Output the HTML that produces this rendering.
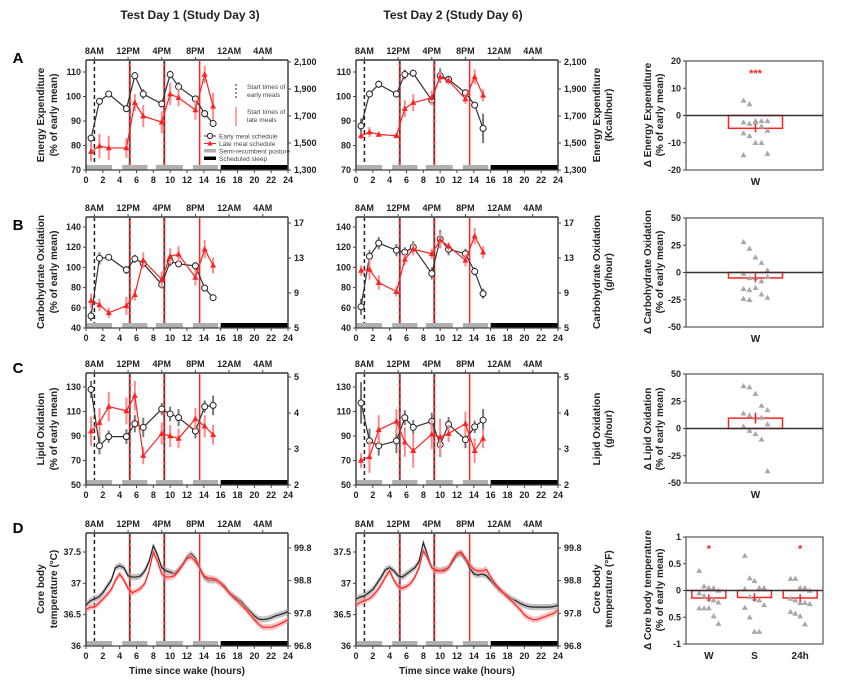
<!DOCTYPE html>
<html><head><meta charset="utf-8"><style>
html,body{margin:0;padding:0;background:#fff;}
svg{display:block;font-family:"Liberation Sans",Arial,sans-serif;}
</style></head><body>
<svg id="fig" width="865" height="689" viewBox="0 0 865 689" xmlns="http://www.w3.org/2000/svg"></svg>
<script>
// ---------- DATA ----------
const hours = [0.6,1.6,2.7,4.8,5.8,6.8,9.0,10.0,11.0,13.0,14.1,15.1];
const eeEarlyD1 = [83,98,101,95,108.5,101,97,109,104,99,93,89];
const eeLateD1  = [77.5,79.8,79,79,97.5,92,89.5,101,99.5,94.5,109,96];
const eeEarlyD2 = [88,101,105,101,109,109.5,98.5,108.5,107,101.5,96.5,87];
const eeLateD2  = [84,85.5,84.5,84,95,97.5,99.5,108,106.5,99,108,100.5];
const eeEarlyErrD1 = [1.5,1.5,1,1,1.5,2,1.5,1.5,2,1.5,1.5,1.5];
const eeLateErrD1  = [4,5,5,4,3.5,4.5,4.5,4.5,3.5,4,3.5,5.5];
const eeEarlyErrD2 = [3,1.5,1.5,1.5,2,1.5,2,3,1.5,1.5,1,6];
const eeLateErrD2  = [1.5,2,1,1,3.5,3.5,3,2,1.5,2,3,2.5];
const choEarlyD1 = [52,109,110,97.5,108.5,104,83,106,103.5,101.5,79.5,70];
const choLateD1  = [67,63,55,62,73,107,88,111,113,90,118,102];
const choEarlyD2 = [61,111,124,117,115,120,94,128,118,113.5,96,74];
const choLateD2  = [97,98,85,76,108,118,113.5,127,121,107,131,115];
const choEarlyErrD1 = [5,6,3,4,4,4,4,5,3,4,3,3];
const choLateErrD1  = [7,6,5,9,6,8,8,8,8,8,9,8];
const choEarlyErrD2 = [8,6,6,6,5,6,6,9,6,5,4,5];
const choLateErrD2  = [5,10,7,5,6,6,5,8,4,6,8,6];
const lipEarlyD1 = [128,82,89.5,89.5,100,97,112,108,105,94,114,115];
const lipLateD1  = [94,101,114,110.5,123,74,92,90,88,104,98,91];
const lipEarlyD2 = [117,86,82,86,105,97,102,83,99.5,87,97.5,103];
const lipLateD2  = [70,73,95,102,85,78,91.5,89,92,100,78,88];
const lipEarlyErrD1 = [7,7,5,6,7,8,5,6,7,6,5,8];
const lipLateErrD1  = [12,12,12,11,12,7,9,9,8,9,9,8];
const lipEarlyErrD2 = [17,10,8,10,6,6,7,10,6,7,5,9];
const lipLateErrD2  = [6,13,12,10,12,14,12,15,7,10,10,8];
const cbtHours = [0,0.5,1,1.5,2,2.5,3,3.5,4,4.5,5,5.5,6,6.5,7,7.5,8,8.5,9,9.5,10,10.5,11,11.5,12,12.5,13,13.5,14,14.5,15,15.5,16,16.5,17,17.5,18,18.5,19,19.5,20,20.5,21,21.5,22,22.5,23,23.5,24];
const cbtEarlyD1 = [36.65,36.72,36.75,36.78,36.85,36.95,37.05,37.25,37.28,37.25,37.12,37.1,37.1,37.12,37.2,37.35,37.6,37.45,37.25,37.2,37.18,37.15,37.22,37.3,37.42,37.47,37.4,37.25,37.1,37.05,37.05,37.05,37.0,36.95,36.85,36.8,36.75,36.7,36.62,36.55,36.48,36.43,36.42,36.43,36.45,36.48,36.5,36.52,36.55];
const cbtLateD1  = [36.58,36.62,36.62,36.68,36.75,36.82,36.9,37.05,37.15,37.05,36.92,36.85,36.88,36.92,37.0,37.2,37.5,37.35,37.15,37.1,37.1,37.12,37.2,37.3,37.4,37.42,37.35,37.25,37.12,37.08,37.08,37.05,37.0,36.93,36.85,36.78,36.72,36.65,36.58,36.5,36.42,36.35,36.3,36.3,36.3,36.32,36.35,36.38,36.42];
const cbtEarlyD2 = [36.75,36.78,36.8,36.85,36.9,37.0,37.1,37.22,37.25,37.2,37.12,37.1,37.15,37.2,37.25,37.35,37.65,37.45,37.25,37.22,37.2,37.22,37.25,37.35,37.45,37.47,37.38,37.25,37.15,37.13,37.15,37.12,37.05,36.97,36.9,36.85,36.8,36.75,36.72,36.68,36.65,36.63,36.62,36.62,36.62,36.62,36.62,36.63,36.65];
const cbtLateD2  = [36.65,36.7,36.72,36.75,36.8,36.88,36.98,37.1,37.2,37.05,36.95,36.92,36.95,37.0,37.1,37.25,37.52,37.4,37.25,37.2,37.2,37.2,37.25,37.38,37.48,37.5,37.4,37.3,37.22,37.2,37.2,37.22,37.1,37.0,36.92,36.85,36.78,36.72,36.65,36.58,36.5,36.45,36.42,36.42,36.45,36.47,36.5,36.52,36.58];
const mealEarly = [1];
const mealBoth = [5.2,9.3];
const mealLate = [13.5];
const postureStart = [0,4.3,8.3,12.7];
const postureEnd = [3.1,7.3,11.5,15.7];
const sleepStart = 16, sleepEnd = 24;
const bottomTicks = [0,2,4,6,8,10,12,14,16,18,20,22,24];
const clockTicks = [1,5,9,13,17,21];
const clockLabels = ["8AM","12PM","4PM","8PM","12AM","4AM"];
const eeTicks = [70,80,90,100,110];
const eeRightTicks = ["1,300","1,500","1,700","1,900","2,100"];
const choTicks = [40,60,80,100,120,140];
const choRightTicks = ["5","9","13","17"];
const lipTicks = [50,70,90,110,130];
const lipRightTicks = ["2","3","4","5"];
const cbtTicks = [36,36.5,37,37.5];
const cbtTickLabels = ["36","36.5","37","37.5"];
const cbtRightTicks = ["96.8","97.8","98.8","99.8"];
const dEE = [5.5,4.2,-2,-2,-2,-2.5,-3,-2.5,-4,-5.5,-6.5,-7.5,-10,-10,-14,-14.5];
const dEEBar = -4.7, dEEErr = 1.5;
const dCHO = [28,22,14,9,2,-1,-5,-5,-8,-4,-15,-16,-14,-20,-23,-24,-25];
const dCHOBar = -5, dCHOErr = 4;
const dLIP = [39,38,32,21,17,14,12,10,10,4,2,-2,-5,-10,-39];
const dLIPBar = 9.5, dLIPErr = 5;
const dCBTW = [0.37,0.08,0.05,0.05,0,-0.05,-0.1,-0.15,-0.18,-0.22,-0.33,-0.33,-0.33,-0.48,-0.62];
const dCBTS = [0.65,0.23,0.18,0.05,0.05,0.03,-0.12,-0.15,-0.18,-0.27,-0.32,-0.5,-0.77,-0.77];
const dCBT24 = [0.22,0.22,0.05,0.05,0,-0.15,-0.18,-0.23,-0.23,-0.25,-0.4,-0.43,-0.48,-0.63];
const dCBTBars = [-0.14,-0.13,-0.14];
const dCBTErrs = [0.07,0.08,0.07];
const dCBTGroups = ["W","S","24h"];

// ---------- HELPERS ----------
const NS = "http://www.w3.org/2000/svg";
const svg = document.getElementById('fig');
function el(tag, attrs, name, parent) {
  const e = document.createElementNS(NS, tag);
  for (const k in attrs) e.setAttribute(k, attrs[k]);
  
  
  (parent || svg).appendChild(e);
  return e;
}
function txt(x, y, s, name, o) {
  o = o || {};
  const t = el('text', {x:x, y:y, 'font-size':o.size||9, 'font-weight':o.weight||'bold', 'text-anchor':o.anchor||'middle', fill:o.fill||'#222'}, name);
  if (o.rot) t.setAttribute('transform', 'rotate(' + o.rot + ' ' + x + ' ' + y + ')');
  t.textContent = s;
  return t;
}
function line(x1,y1,x2,y2,stroke,w,name,dash){
  const a = {x1:x1,y1:y1,x2:x2,y2:y2,stroke:stroke,'stroke-width':w};
  if (dash) a['stroke-dasharray'] = dash;
  return el('line', a, name);
}

// ---------- TIME PLOTS ----------
function timePlot(cfg) {
  const X0 = cfg.x0, X1 = cfg.x0 + 202;
  const xs = h => X0 + h * (X1 - X0) / 24;
  const ys = v => cfg.yb - (v - cfg.dmin) * cfg.ppu;
  const top = cfg.top, bot = cfg.yb;
  const g = cfg.pid;
  mealEarly.forEach(h => line(xs(h), top, xs(h), bot, '#222', 1.5, g + '-early-meal-line', '4,3'));
  mealBoth.forEach(h => { line(xs(h), top, xs(h), bot, '#f22', 2, g + '-late-meal-line'); line(xs(h), top, xs(h), bot, '#444', 1.5, g + '-early-meal-line', '4,3'); });
  mealLate.forEach(h => line(xs(h), top, xs(h), bot, '#f22', 1.5, g + '-late-meal-line'));
  postureStart.forEach((s, i) => el('rect', {x:xs(s), y:bot-5, width:xs(postureEnd[i])-xs(s), height:5, fill:'#b0b0b0'}, g + '-posture-bar'));
  el('rect', {x:xs(sleepStart), y:bot-5, width:xs(sleepEnd)-xs(sleepStart), height:5, fill:'#000'}, g + '-sleep-bar');
  line(X0, top, X1, top, '#666', 2, g + '-top-axis');
  line(X0, top, X0, bot, '#444', 1.5, g + '-y-axis-left');
  line(X1, top, X1, bot, '#444', 1.5, g + '-y-axis-right');
  line(X0, bot, X1, bot, '#444', 1.2, g + '-x-axis');
  bottomTicks.forEach(h => { line(xs(h), bot, xs(h), bot+3, '#444', 1, g + '-x-tick'); txt(xs(h), bot+13, String(h), g + '-x-tick-label'); });
  clockTicks.forEach((h, i) => { line(xs(h), top, xs(h), top-3, '#444', 1, g + '-top-tick'); txt(xs(h), top-6, clockLabels[i], g + '-clock-label'); });
  cfg.ticks.forEach((v, i) => { line(X0-3, ys(v), X0, ys(v), '#444', 1, g + '-y-tick'); txt(X0-5, ys(v)+3, cfg.tickLabels ? cfg.tickLabels[i] : String(v), g + '-y-tick-label', {anchor:'end'}); });
  cfg.rTicks.forEach((s, i) => { const y = cfg.rBot - i * cfg.rStep; line(X1, y, X1+3, y, '#444', 1, g + '-right-tick'); txt(X1+6, y+3, s, g + '-right-tick-label', {anchor:'start'}); });
  return {xs, ys};
}
function series(sc, xsArr, vals, errs, early, name) {
  const col = early ? '#333' : '#f22';
  const ecol = early ? '#777' : '#f88';
  vals.forEach((v, i) => line(sc.xs(xsArr[i]), sc.ys(v - errs[i]), sc.xs(xsArr[i]), sc.ys(v + errs[i]), ecol, 2, name + '-error-bar'));
  const pts = vals.map((v, i) => sc.xs(xsArr[i]) + ',' + sc.ys(v)).join(' ');
  el('polyline', {points:pts, fill:'none', stroke:col, 'stroke-width':1.2}, name + '-line');
  vals.forEach((v, i) => {
    const x = sc.xs(xsArr[i]), y = sc.ys(v);
    if (early) el('circle', {cx:x, cy:y, r:3, fill:'#fff', stroke:'#222', 'stroke-width':1}, name + '-point');
    else el('polygon', {points:(x)+','+(y-3.2)+' '+(x-3)+','+(y+2.3)+' '+(x+3)+','+(y+2.3), fill:'#f22'}, name + '-point');
  });
}
function cbtSeries(sc, vals, early, name) {
  const up = vals.map((v, i) => sc.xs(cbtHours[i]) + ',' + sc.ys(v + 0.05));
  const dn = vals.map((v, i) => sc.xs(cbtHours[i]) + ',' + sc.ys(v - 0.05)).reverse();
  el('polygon', {points:up.concat(dn).join(' '), fill: early ? '#999' : '#f99', opacity:0.6}, name + '-band');
  el('polyline', {points:vals.map((v, i) => sc.xs(cbtHours[i]) + ',' + sc.ys(v)).join(' '), fill:'none', stroke: early ? '#222' : '#f22', 'stroke-width':1.2}, name + '-line');
}

const panels = [
  {pid:'ee', top:60, yb:170, dmin:70, ppu:2.45, ticks:eeTicks, rTicks:eeRightTicks, rBot:170, rStep:27,
   d:[[eeEarlyD1,eeEarlyErrD1,eeLateD1,eeLateErrD1],[eeEarlyD2,eeEarlyErrD2,eeLateD2,eeLateErrD2]]},
  {pid:'cho', top:217, yb:328, dmin:40, ppu:1.01, ticks:choTicks, rTicks:choRightTicks, rBot:328, rStep:35,
   d:[[choEarlyD1,choEarlyErrD1,choLateD1,choLateErrD1],[choEarlyD2,choEarlyErrD2,choLateD2,choLateErrD2]]},
  {pid:'lip', top:373, yb:485, dmin:50, ppu:1.225, ticks:lipTicks, rTicks:lipRightTicks, rBot:485, rStep:36,
   d:[[lipEarlyD1,lipEarlyErrD1,lipLateD1,lipLateErrD1],[lipEarlyD2,lipEarlyErrD2,lipLateD2,lipLateErrD2]]},
];
panels.forEach(p => {
  [86, 356].forEach((x0, k) => {
    const sc = timePlot(Object.assign({}, p, {x0:x0, pid:p.pid + '-day' + (k+1)}));
    series(sc, hours, p.d[k][0], p.d[k][1], true, p.pid + '-day' + (k+1) + '-early');
    series(sc, hours, p.d[k][2], p.d[k][3], false, p.pid + '-day' + (k+1) + '-late');
  });
});
[[86, cbtEarlyD1, cbtLateD1], [356, cbtEarlyD2, cbtLateD2]].forEach((c, k) => {
  const sc = timePlot({pid:'cbt-day' + (k+1), x0:c[0], top:533, yb:646, dmin:36, ppu:62.67, ticks:cbtTicks, tickLabels:cbtTickLabels, rTicks:cbtRightTicks, rBot:646, rStep:32.7});
  cbtSeries(sc, c[1], true, 'cbt-day' + (k+1) + '-early');
  cbtSeries(sc, c[2], false, 'cbt-day' + (k+1) + '-late');
});

// legend (panel A day 1)
line(236, 84, 236, 100, '#444', 1.2, 'legend-early-meal-line', '2,2');
txt(247, 89, 'Start times of', 'legend-early-meal-text', {size:6.5, weight:'normal', anchor:'start', fill:'#444'});
txt(247, 97, 'early meals', 'legend-early-meal-text', {size:6.5, weight:'normal', anchor:'start', fill:'#444'});
line(236, 107, 236, 126, '#f66', 1.2, 'legend-late-meal-line');
txt(247, 114, 'Start times of', 'legend-late-meal-text', {size:6.5, weight:'normal', anchor:'start', fill:'#444'});
txt(247, 122, 'late meals', 'legend-late-meal-text', {size:6.5, weight:'normal', anchor:'start', fill:'#444'});
line(204, 136, 216, 136, '#333', 1, 'legend-early-line');
el('circle', {cx:210, cy:136, r:2.6, fill:'#fff', stroke:'#222'}, 'legend-early-marker');
txt(219, 138.5, 'Early meal schedule', 'legend-early-text', {size:6.5, weight:'normal', anchor:'start', fill:'#444'});
line(204, 143.5, 216, 143.5, '#f22', 1, 'legend-late-line');
el('polygon', {points:'210,140.5 207.3,145.5 212.7,145.5', fill:'#f22'}, 'legend-late-marker');
txt(219, 146, 'Late meal schedule', 'legend-late-text', {size:6.5, weight:'normal', anchor:'start', fill:'#444'});
el('rect', {x:204, y:149, width:12, height:3.5, fill:'#b0b0b0'}, 'legend-posture-swatch');
txt(219, 153.5, 'Semi-recumbent posture', 'legend-posture-text', {size:6.5, weight:'normal', anchor:'start', fill:'#444'});
el('rect', {x:204, y:156.5, width:12, height:3.5, fill:'#000'}, 'legend-sleep-swatch');
txt(219, 161, 'Scheduled sleep', 'legend-sleep-text', {size:6.5, weight:'normal', anchor:'start', fill:'#444'});

// headers, letters, axis titles
txt(190, 19, 'Test Day 1 (Study Day 3)', 'day1-header', {size:12});
txt(453, 19, 'Test Day 2 (Study Day 6)', 'day2-header', {size:12});
[['A',63],['B',230],['C',373],['D',533]].forEach(l => txt(18, l[1], l[0], 'panel-letter-' + l[0].toLowerCase(), {size:15, fill:'#000'}));
txt(187, 674, 'Time since wake (hours)', 'x-axis-title-day1', {size:10});
txt(457, 674, 'Time since wake (hours)', 'x-axis-title-day2', {size:10});
const leftTitles = [['Energy Expenditure','(% of early mean)',115],['Carbohydrate Oxidation','(% of early mean)',272],['Lipid Oxidation','(% of early mean)',429],['Core body','temperature (°C)',589]];
leftTitles.forEach((t, i) => { txt(44, t[2], t[0], 'y-axis-title-left', {size:10, rot:-90}); txt(57, t[2], t[1], 'y-axis-title-left', {size:10, rot:-90}); });
const midTitles = [['Energy Expenditure','(Kcal/hour)',115],['Carbohydrate Oxidation','(g/hour)',272],['Lipid Oxidation','(g/hour)',429],['Core body','temperature (°F)',589]];
midTitles.forEach(t => { txt(600, t[2], t[0], 'y-axis-title-right', {size:10, rot:-90}); txt(612, t[2], t[1], 'y-axis-title-right', {size:10, rot:-90}); });
const rTitles = [['Δ Energy Expenditure','(% of early mean)',115],['Δ Carbohydrate Oxidation','(% of early mean)',272],['Δ Lipid Oxidation','(% of early mean)',429],['Δ Core body temperature','(% of early mean)',590]];
rTitles.forEach(t => { txt(651, t[2], t[0], 'delta-y-axis-title', {size:10, rot:-90}); txt(663, t[2], t[1], 'delta-y-axis-title', {size:10, rot:-90}); });

// ---------- DELTA PLOTS ----------
function deltaPlot(pid, top, bot, dmax, ticks, tickLabels, groups, dataSets, bars, errs, stars) {
  const L = 686, R = 823;
  const ys = v => top + (dmax - v) * (bot - top) / (2 * dmax);
  el('rect', {x:L, y:top, width:R-L, height:bot-top, fill:'none', stroke:'#555', 'stroke-width':1.2}, pid + '-frame');
  ticks.forEach((v, i) => { line(L-3, ys(v), L, ys(v), '#444', 1, pid + '-y-tick'); txt(L-5, ys(v)+3, tickLabels[i], pid + '-y-tick-label', {anchor:'end'}); });
  const n = groups.length, w = (R - L) / n;
  groups.forEach((gname, g) => {
    const cx = n === 1 ? 755.5 : L + w * (g + 0.5);
    const bw = n === 1 ? 54 : 34;
    el('rect', {x:cx-bw/2, y:Math.min(ys(0), ys(bars[g])), width:bw, height:Math.abs(ys(bars[g]) - ys(0)), fill:'none', stroke:'#f22', 'stroke-width':1.5}, pid + '-bar-' + gname);
    dataSets[g].forEach((v, i) => {
      const off = ((i % 5) - 2) * 6 * (n === 1 ? 1 : 0.8);
      const x = cx + off, y = ys(v);
      el('polygon', {points:x+','+(y-3)+' '+(x-3)+','+(y+2.2)+' '+(x+3)+','+(y+2.2), fill:'#a8a8a8'}, pid + '-point-' + gname);
    });
    line(cx, ys(bars[g] - errs[g]), cx, ys(bars[g] + errs[g]), '#f22', 1.5, pid + '-error-bar-' + gname);
    if (stars[g]) txt(cx, ys(dmax * 0.8) + 5, stars[g], pid + '-significance-' + gname, {size:11, fill:'#f22'});
    txt(cx, bot + 15, gname, pid + '-x-label-' + gname, {size:10});
  });
  line(L, ys(0), R, ys(0), '#333', 1.5, pid + '-zero-line');
}
deltaPlot('delta-ee', 61, 170, 20, [20,10,0,-10,-20], ['20','10','0','-10','-20'], ['W'], [dEE], [dEEBar], [dEEErr], ['***']);
deltaPlot('delta-cho', 218, 327, 50, [50,25,0,-25,-50], ['50','25','0','-25','-50'], ['W'], [dCHO], [dCHOBar], [dCHOErr], ['']);
deltaPlot('delta-lip', 374, 483, 50, [50,25,0,-25,-50], ['50','25','0','-25','-50'], ['W'], [dLIP], [dLIPBar], [dLIPErr], ['']);
deltaPlot('delta-cbt', 537, 644, 1, [1,0.5,0,-0.5,-1], ['1','0.5','0','0.5','-1'], dCBTGroups, [dCBTW, dCBTS, dCBT24], dCBTBars, dCBTErrs, ['*','','*']);
</script>
</body></html>
